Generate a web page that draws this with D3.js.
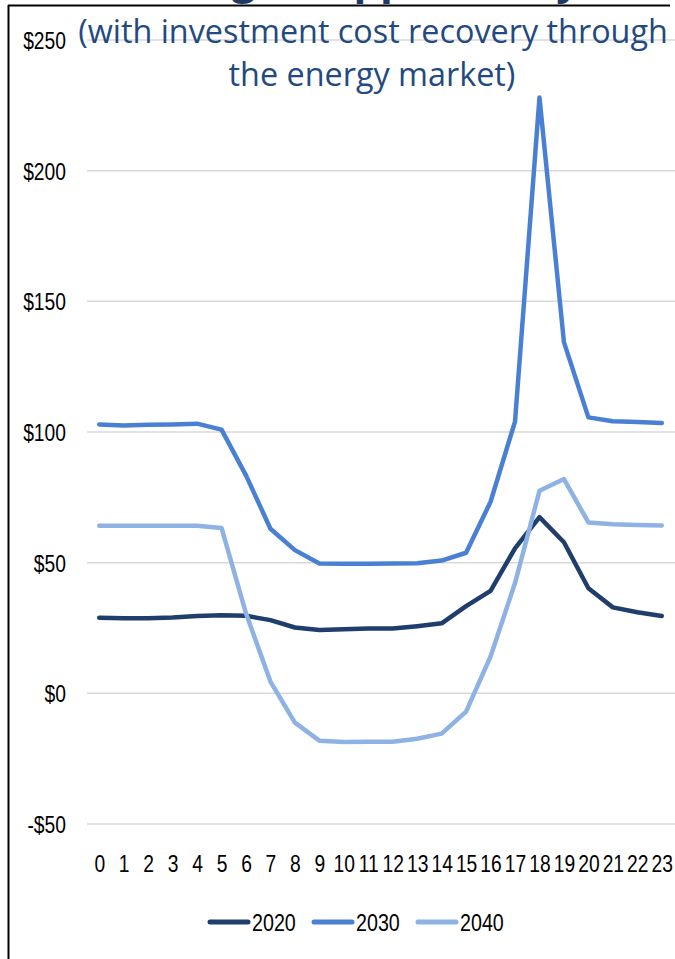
<!DOCTYPE html>
<html>
<head>
<meta charset="utf-8">
<script src="https://cdn.jsdelivr.net/npm/d3@7"></script>
<style>
  html, body { margin: 0; padding: 0; background: #ffffff; }
  svg { display: block; }
  .narrow { font-family: "Liberation Sans", Arial, sans-serif; }
</style>
</head>
<body>
<svg id="chart" width="675" height="959"></svg>
<script>
// Hourly prices ($/MWh) by hour of day for three study years
const hours = ["0","1","2","3","4","5","6","7","8","9","10","11","12","13","14","15","16","17","18","19","20","21","22","23"];
const years = ["2020", "2030", "2040"];
const price2020 = [28.9, 28.7, 28.7, 29.0, 29.6, 29.9, 29.7, 28.0, 25.2, 24.2, 24.5, 24.8, 24.8, 25.7, 26.8, 33.4, 39.2, 55.5, 67.4, 57.8, 40.2, 32.9, 31.0, 29.6];
const price2030 = [102.9, 102.5, 102.8, 102.9, 103.2, 100.9, 83.4, 63.0, 54.8, 49.7, 49.6, 49.6, 49.7, 49.8, 50.8, 53.8, 73.3, 104.0, 228.0, 134.4, 105.6, 104.1, 103.8, 103.4];
const price2040 = [64.1, 64.1, 64.1, 64.1, 64.1, 63.3, 30.6, 4.5, -11.2, -18.1, -18.6, -18.5, -18.5, -17.4, -15.4, -7.0, 14.1, 42.2, 77.5, 82.0, 65.4, 64.7, 64.4, 64.2];
const yTicks = [-50, 0, 50, 100, 150, 200, 250];
const titleWords = ["Storage", "Opportunity"];
const subtitleLines = ["(with investment cost recovery through", "the energy market)"];

const colors = { "2020": "#1f3e6e", "2030": "#4a80d4", "2040": "#8eb2e4" };
const seriesValues = { "2020": price2020, "2030": price2030, "2040": price2040 };

// Condensed label look: regular sans squeezed horizontally
const SQUEEZE = 0.82;
const LABEL_SIZE = 23.5;

const svg = d3.select("#chart");

// Frame: left edge
svg.append("line").attr("x1", 8.5).attr("x2", 8.5).attr("y1", 5).attr("y2", 959)
  .attr("stroke", "#000").attr("stroke-width", 2);

const x = d3.scalePoint().domain(hours).range([87, 674]).padding(0.5);
const y = d3.scaleLinear().domain([-50, 250]).range([824, 40]);

// Horizontal gridlines
svg.append("g").selectAll("line").data(yTicks).join("line")
  .attr("x1", 87).attr("x2", 675)
  .attr("y1", d => y(d)).attr("y2", d => y(d))
  .attr("stroke", "#d9d9d9").attr("stroke-width", 1.5);

const fmt = d => (d < 0 ? "-$" : "$") + Math.abs(d);

// Y axis labels
const yAxis = d3.axisLeft(y).tickValues(yTicks).tickFormat(fmt).tickSize(0).tickPadding(0);
const gy = svg.append("g").attr("transform", "translate(66,0)").call(yAxis);
gy.select(".domain").remove();
gy.attr("font-family", null).attr("font-size", null);
gy.selectAll("text").attr("class", "narrow").attr("font-size", LABEL_SIZE).attr("fill", "#000")
  .attr("x", 0).attr("dy", "0.36em").attr("transform", `scale(${SQUEEZE},1)`);

// X axis labels
const xAxis = d3.axisBottom(x).tickSize(0).tickPadding(0);
const gx = svg.append("g").attr("transform", "translate(0,872)").call(xAxis);
gx.select(".domain").remove();
gx.attr("font-family", null).attr("font-size", null);
gx.selectAll("text").attr("class", "narrow").attr("font-size", LABEL_SIZE).attr("fill", "#000")
  .attr("dy", 0).attr("y", 0).attr("transform", `scale(${SQUEEZE},1)`);

// Series lines
const line = d3.line().x((d, i) => x(hours[i])).y(d => y(d));
svg.append("g").selectAll("path").data(years).join("path")
  .attr("d", k => line(seriesValues[k]))
  .attr("fill", "none")
  .attr("stroke", k => colors[k])
  .attr("stroke-width", 4.5)
  .attr("stroke-linejoin", "round")
  .attr("stroke-linecap", "round");

// Title (only its lower edge shows above the frame)
const title = svg.append("text").attr("y", -6)
  .attr("font-family", "'Open Sans', 'Noto Sans', sans-serif")
  .attr("font-weight", "bold").attr("font-size", 42).attr("fill", "#1f3864");
title.append("tspan").attr("x", 120).text(titleWords[0]);
title.append("tspan").attr("x", 320).text(titleWords[1]);

svg.append("line").attr("x1", 8).attr("x2", 670).attr("y1", 5.5).attr("y2", 5.5)
  .attr("stroke", "#000").attr("stroke-width", 2);

// Subtitle, sized so the first line spans the plot width
const sub = svg.append("g")
  .attr("font-family", "'Open Sans', 'Noto Sans', sans-serif")
  .attr("fill", "#234a80").attr("text-anchor", "middle");
const sub1 = sub.append("text").attr("x", 373).attr("y", 43).attr("font-size", 30).text(subtitleLines[0]);
const w = sub1.node().getComputedTextLength();
const fs = 30 * 590 / w;
sub1.attr("font-size", fs);
sub.append("text").attr("x", 372).attr("y", 86).attr("font-size", fs).text(subtitleLines[1]);

// Legend
const legendX = { "2020": 210, "2030": 314, "2040": 418 };
const lg = svg.append("g");
years.forEach(k => {
  lg.append("line").attr("x1", legendX[k]).attr("x2", legendX[k] + 38)
    .attr("y1", 922).attr("y2", 922)
    .attr("stroke", colors[k]).attr("stroke-width", 5).attr("stroke-linecap", "round");
  lg.append("text").attr("class", "narrow")
    .attr("transform", `translate(${legendX[k] + 42},931) scale(${SQUEEZE},1)`)
    .attr("font-size", 24).attr("fill", "#000").text(k);
});
</script>
</body>
</html>
